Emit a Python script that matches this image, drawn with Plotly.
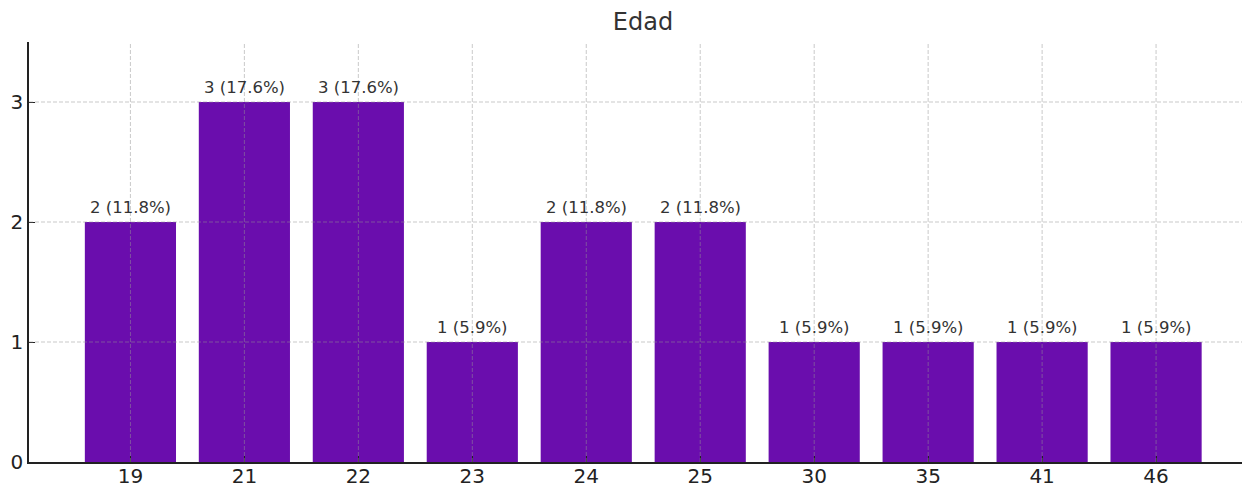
import plotly.graph_objects as go

# Age distribution of respondents
ages = ["19", "21", "22", "23", "24", "25", "30", "35", "41", "46"]
counts = [2, 3, 3, 1, 2, 2, 1, 1, 1, 1]
y_ticks = [0, 1, 2, 3]

total = sum(counts)
labels = [f"{c} ({c / total * 100:.1f}%)" for c in counts]

BAR = "#6a0dad"
GRID = "rgba(150,150,150,0.5)"
FONT = "DejaVu Sans"

pos = list(range(len(ages)))

fig = go.Figure(
    go.Bar(
        x=pos,
        y=counts,
        width=0.8,
        marker=dict(color=BAR, line=dict(width=0)),
        hoverinfo="skip",
    )
)

# value labels above each bar
for p, c, t in zip(pos, counts, labels):
    fig.add_annotation(
        x=p, y=c, text=t, showarrow=False,
        yanchor="bottom", yshift=3,
        font=dict(family=FONT, size=16.5, color="#333333"),
    )

# dashed grid drawn over the bars
for p in pos:
    fig.add_shape(type="line", xref="x", yref="paper", x0=p, x1=p, y0=0, y1=1,
                  line=dict(color=GRID, width=1, dash="4px,2px"), layer="above")
for v in y_ticks[1:]:
    fig.add_shape(type="line", xref="paper", yref="y", x0=0, x1=1, y0=v, y1=v,
                  line=dict(color=GRID, width=1, dash="4px,2px"), layer="above")

fig.update_layout(
    width=1242,
    height=487,
    margin=dict(l=29, r=0, t=42, b=25),
    paper_bgcolor="white",
    plot_bgcolor="white",
    showlegend=False,
    title=dict(
        text="Edad",
        x=643 / 1242, xref="container", xanchor="center",
        y=1 - 22 / 487, yref="container", yanchor="middle",
        font=dict(family=FONT, size=24, color="#333333"),
    ),
    font=dict(family=FONT, color="#222222"),
)

fig.update_xaxes(
    range=[-0.89, 9.754],
    tickmode="array", tickvals=pos, ticktext=ages,
    showgrid=False, zeroline=False, automargin=False,
    showline=True, linecolor="#222222", linewidth=1.5,
    ticks="inside", ticklen=6, tickwidth=1.2, tickcolor="#222222",
    tickfont=dict(family=FONT, size=20, color="#222222"),
    ticklabelstandoff=-5,
    layer="above traces",
)
fig.update_yaxes(
    range=[0, 3.5],
    tickmode="array", tickvals=y_ticks,
    showgrid=False, zeroline=False, automargin=False,
    showline=True, linecolor="#222222", linewidth=1.5,
    ticks="inside", ticklen=6, tickwidth=1.2, tickcolor="#222222",
    tickfont=dict(family=FONT, size=20, color="#222222"),
    layer="above traces",
)

fig.write_html("out.html")
